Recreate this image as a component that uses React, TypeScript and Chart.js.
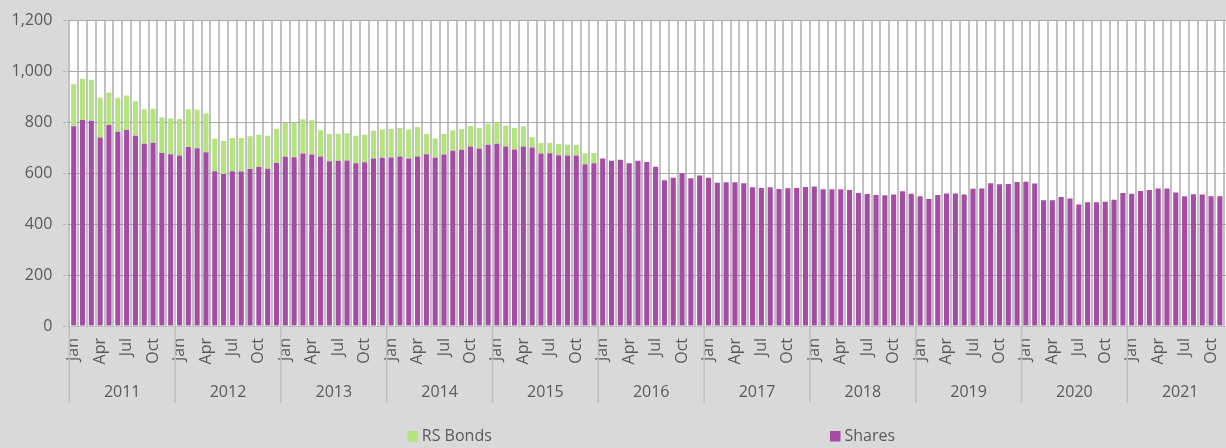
import { useEffect, useRef } from 'react';
import { Chart, registerables } from 'chart.js';

Chart.register(...registerables);

const years = ['2011', '2012', '2013', '2014', '2015', '2016', '2017', '2018', '2019', '2020', '2021'];
const months = ['Jan', 'Feb', 'Mar', 'Apr', 'May', 'Jun', 'Jul', 'Aug', 'Sep', 'Oct', 'Nov', 'Dec'];
const shownMonths = ['Jan', 'Apr', 'Jul', 'Oct'];

const shares: (number | null)[] = [
  785, 809, 806, 741, 790, 763, 770, 748, 716, 720, 680, 675,
  670, 703, 698, 683, 608, 597, 608, 607, 617, 625, 618, 640,
  665, 663, 678, 674, 666, 647, 649, 650, 639, 643, 658, 661,
  662, 666, 658, 666, 675, 661, 674, 689, 693, 705, 697, 712,
  716, 705, 694, 705, 701, 678, 679, 671, 670, 670, 636, 639,
  658, 649, 653, 639, 649, 644, 626, 573, 583, 600, 581, 591,
  583, 563, 565, 565, 561, 545, 542, 545, 538, 541, 542, 546,
  548, 537, 537, 537, 534, 523, 519, 515, 514, 517, 529, 520,
  510, 499, 515, 521, 521, 517, 539, 540, 561, 557, 558, 566,
  567, 560, 494, 494, 507, 501, 477, 486, 486, 488, 496, 523,
  520, 530, 534, 540, 540, 525, 510, 518, 517, 510, 510, null,
];

const rsBonds: (number | null)[] = [
  165, 163, 162, 156, 127, 134, 136, 135, 136, 134, 139, 140,
  143, 149, 152, 152, 128, 130, 131, 132, 129, 126, 130, 134,
  134, 136, 134, 134, 103, 107, 106, 107, 109, 108, 109, 111,
  112, 112, 114, 116, 79, 77, 80, 80, 81, 81, 81, 83,
  84, 82, 84, 80, 41, 41, 41, 44, 42, 41, 43, 41,
  0, 0, 0, 0, 0, 0, 0, 0, 0, 0, 0, 0,
  0, 0, 0, 0, 0, 0, 0, 0, 0, 0, 0, 0,
  0, 0, 0, 0, 0, 0, 0, 0, 0, 0, 0, 0,
  0, 0, 0, 0, 0, 0, 0, 0, 0, 0, 0, 0,
  0, 0, 0, 0, 0, 0, 0, 0, 0, 0, 0, 0,
  0, 0, 0, 0, 0, 0, 0, 0, 0, 0, 0, null,
];

const categories = years.flatMap((y) => months.map((m) => `${m} ${y}`));

const CANVAS_W = 1300;
const CANVAS_H = 448;
const FONT = "'Open Sans', sans-serif";
const TEXT = '#595959';
const PURPLE = '#a64ca6';
const GREEN = '#b3e57c';

const decorPlugin = {
  id: 'decor',
  beforeDraw(chart: any) {
    const { ctx, chartArea: a, width, height } = chart;
    ctx.save();
    ctx.fillStyle = '#d9d9d9';
    ctx.fillRect(0, 0, width, height);
    ctx.fillStyle = '#ffffff';
    ctx.fillRect(a.left, a.top, a.right - a.left, a.bottom - a.top);
    ctx.restore();
  },
  afterDraw(chart: any) {
    const { ctx, chartArea: a } = chart;
    const xs = chart.scales.x;
    const cw = (xs.right - xs.left) / categories.length;
    ctx.save();
    ctx.strokeStyle = '#bfbfbf';
    ctx.lineWidth = 1.5;
    ctx.fillStyle = TEXT;
    ctx.font = `16px ${FONT}`;
    ctx.textAlign = 'center';
    ctx.textBaseline = 'middle';
    years.forEach((yr, k) => {
      const first = xs.getPixelForValue(k * 12);
      const last = xs.getPixelForValue(k * 12 + 11);
      const x0 = first - cw / 2;
      ctx.beginPath();
      ctx.moveTo(x0, a.bottom);
      ctx.lineTo(x0, 403);
      ctx.stroke();
      ctx.fillText(yr, (first + last) / 2, 392.5);
    });
    const xEnd = xs.getPixelForValue(categories.length - 1) + cw / 2;
    ctx.beginPath();
    ctx.moveTo(xEnd, a.bottom);
    ctx.lineTo(xEnd, 403);
    ctx.stroke();

    // legend
    const items = [
      { ds: chart.data.datasets[1], x: 407.3 },
      { ds: chart.data.datasets[0], x: 830 },
    ];
    ctx.textAlign = 'left';
    items.forEach(({ ds, x }) => {
      ctx.fillStyle = ds.backgroundColor;
      ctx.fillRect(x, 431, 10.5, 10.5);
      ctx.fillStyle = TEXT;
      ctx.fillText(ds.label, x + 14.5, 436.5);
    });
    ctx.restore();
  },
};

export default function App() {
  const ref = useRef<HTMLCanvasElement | null>(null);

  useEffect(() => {
    if (!ref.current) return;
    const chart = new Chart(ref.current, {
      type: 'bar',
      data: {
        labels: categories,
        datasets: [
          {
            label: 'Shares',
            data: shares,
            backgroundColor: PURPLE,
            barPercentage: 0.58,
            categoryPercentage: 1.0,
            stack: 's',
          },
          {
            label: 'RS Bonds',
            data: rsBonds,
            backgroundColor: GREEN,
            barPercentage: 0.58,
            categoryPercentage: 1.0,
            stack: 's',
          },
        ],
      },
      options: {
        responsive: false,
        animation: false,
        devicePixelRatio: 1,
        events: [],
        layout: { padding: { left: 0, top: 16, right: CANVAS_W - 1233.1, bottom: 0 } },
        plugins: {
          legend: { display: false },
          tooltip: { enabled: false },
          title: { display: false },
        },
        scales: {
          x: {
            stacked: true,
            afterFit: (s: any) => {
              s.height = CANVAS_H - 326;
            },
            grid: {
              offset: true,
              color: '#c2c2c2',
              lineWidth: 2,
              drawTicks: false,
            },
            border: { display: true, color: '#bfbfbf', width: 1 },
            ticks: {
              autoSkip: false,
              minRotation: 90,
              maxRotation: 90,
              padding: 12,
              color: TEXT,
              font: { family: FONT, size: 16 },
              callback: (_v: any, i: number) => {
                const m = months[i % 12];
                return shownMonths.includes(m) ? m : '';
              },
            },
          },
          y: {
            stacked: true,
            min: 0,
            max: 1200,
            afterFit: (s: any) => {
              s.width = 69.3;
            },
            grid: {
              color: '#a8a8a8',
              lineWidth: 1,
              borderDash: [2, 2],
              tickBorderDash: [2, 2],
              tickLength: 6,
              drawTicks: true,
            },
            border: { display: false },
            ticks: {
              stepSize: 200,
              padding: 11,
              color: TEXT,
              font: { family: FONT, size: 16 },
            },
          },
        },
      },
      plugins: [decorPlugin],
    });
    return () => chart.destroy();
  }, []);

  return (
    <div
      style={{
        position: 'fixed',
        left: 0,
        top: 0,
        width: 1226,
        height: 448,
        overflow: 'hidden',
        background: '#d9d9d9',
      }}
    >
      <canvas
        ref={ref}
        width={CANVAS_W}
        height={CANVAS_H}
        style={{ display: 'block', width: CANVAS_W, height: CANVAS_H }}
      />
    </div>
  );
}
